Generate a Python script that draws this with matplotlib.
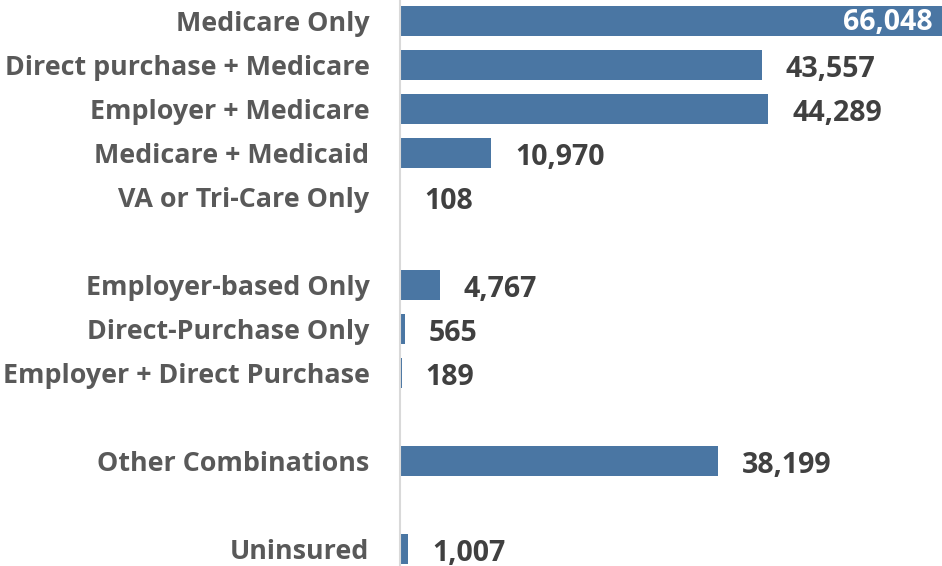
import matplotlib
matplotlib.use("Agg")
import matplotlib.pyplot as plt

# coverage categories, top to bottom (None = empty gap row)
labels = ["Medicare Only", "Direct purchase + Medicare", "Employer + Medicare",
          "Medicare + Medicaid", "VA or Tri-Care Only", None,
          "Employer-based Only", "Direct-Purchase Only", "Employer + Direct Purchase", None,
          "Other Combinations", None, "Uninsured"]
values = [66048, 43557, 44289, 10970, 108, None,
          4767, 565, 189, None,
          38199, None, 1007]

bar_color = "#4a76a3"
cat_color = "#595959"
val_color = "#404040"
font = "Open Sans"

fig = plt.figure(figsize=(9.42, 5.66), dpi=100)
ax = fig.add_axes([400 / 942, 0, 542 / 942, 1])

rows = [i for i, v in enumerate(values) if v is not None]
vals = [values[i] for i in rows]
ax.barh(rows, vals, height=0.66, color=bar_color)

ax.set_xlim(0, 65150)
ax.set_ylim(12 + 17 / 44, -21 / 44)

for i in rows:
    v = values[i]
    txt = f"{v:,}"
    if v > 60000:
        ax.annotate(txt, xy=(1, i), xycoords=("axes fraction", "data"),
                    xytext=(-7, -1), textcoords="offset points",
                    ha="right", va="center", fontsize=20.5, fontweight="bold",
                    color="white", family=font)
    else:
        ax.annotate(txt, xy=(v, i), xytext=(17, -3), textcoords="offset points",
                    ha="left", va="center", fontsize=20.5, fontweight="bold",
                    color=val_color, family=font)
    ax.annotate(labels[i], xy=(0, i), xycoords=("axes fraction", "data"),
                xytext=(-22, -2), textcoords="offset points",
                ha="right", va="center", fontsize=19.4, fontweight="bold",
                color=cat_color, family=font)

ax.set_xticks([])
ax.set_yticks([])
for s in ["top", "right", "bottom"]:
    ax.spines[s].set_visible(False)
ax.spines["left"].set_color("#d9d9d9")
ax.spines["left"].set_linewidth(1.5)

fig.savefig("out.png", dpi=100)
